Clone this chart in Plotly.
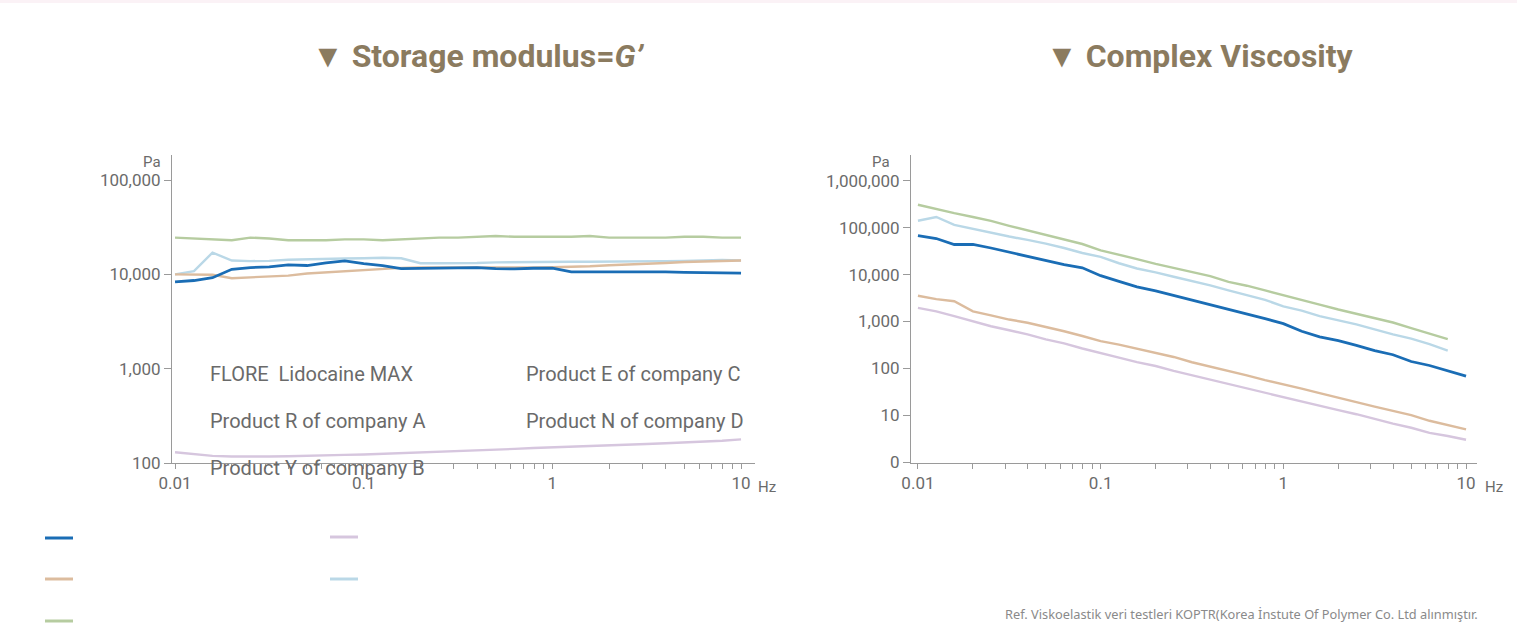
import plotly.graph_objects as go

# ---------------- data ----------------
freq = [0.01, 0.0126, 0.0158, 0.02, 0.0251, 0.0316, 0.0398, 0.0501, 0.0631, 0.0794,
        0.1, 0.126, 0.158, 0.2, 0.251, 0.316, 0.398, 0.501, 0.631, 0.794,
        1, 1.26, 1.58, 2, 2.51, 3.16, 3.98, 5.01, 6.31, 7.94, 10]

series_names = ["FLORE  Lidocaine MAX", "Product R of company A", "Product Y of company B",
                "Product E of company C", "Product N of company D"]
series_colors = ["#1a6db5", "#dcbc9e", "#b6cca0", "#d6c6de", "#bad8e7"]

# Storage modulus G' (Pa)
g_flore = [8300, 8600, 9200, 11300, 11800, 12000, 12600, 12400, 13200, 13900,
           13000, 12400, 11500, 11600, 11600, 11700, 11800, 11500, 11400, 11600,
           11600, 10600, 10600, 10700, 10600, 10700, 10600, 10500, 10400, 10300, 10300]
g_prod_r = [10000, 10000, 9900, 9100, 9300, 9400, 9700, 10200, 10500, 10900,
            11200, 11500, 11700, 11800, 11800, 11700, 11600, 11600, 11700, 11800,
            11900, 12000, 12200, 12500, 12800, 13000, 13200, 13500, 13700, 13800, 14000]
g_prod_y = [24500, 24000, 23500, 23000, 24500, 24000, 23000, 23000, 23000, 23500,
            23500, 23000, 23500, 24000, 24500, 24500, 25000, 25500, 25000, 25000,
            25000, 25000, 25500, 24500, 24500, 24500, 24500, 25000, 25000, 24500, 24500]
g_prod_e = [130, 124, 119, 117, 116, 117, 118, 120, 121, 122,
            123, 125, 126, 128, 130, 133, 135, 138, 141, 144,
            146, 148, 150, 153, 156, 159, 162, 165, 168, 172, 178]
g_prod_n = [10000, 10800, 17000, 14000, 13800, 13900, 14300, 14500, 14500, 14700,
            14800, 15000, 14800, 13100, 13100, 13100, 13200, 13400, 13500, 13500,
            13500, 13600, 13600, 13600, 13700, 13700, 13800, 13900, 14000, 14200, 14000]

# Complex viscosity (Pa·s)
v_flore = [68000, 59000, 44000, 44000, 37000, 30000, 24500, 20000, 16300, 14000,
           9500, 7200, 5500, 4500, 3600, 2900, 2300, 1850, 1450, 1150,
           900, 620, 470, 390, 310, 240, 195, 140, 115, 88, 68]
v_prod_r = [3550, 3000, 2700, 1650, 1350, 1100, 940, 770, 620, 490,
            380, 320, 260, 215, 175, 135, 110, 88, 71, 56,
            46, 37, 29.5, 24, 19, 15.3, 12.3, 10, 7.6, 6.2, 5.0]
v_prod_y = [310000, 250000, 205000, 170000, 140000, 110000, 88000, 70000, 57000, 45000,
            33000, 27000, 21500, 17000, 14000, 11500, 9300, 7000, 5800, 4600,
            3600, 2900, 2300, 1800, 1450, 1200, 950, 720, 560, 420, None]
v_prod_e = [1950, 1650, 1300, 1000, 790, 650, 530, 415, 340, 265,
            215, 170, 136, 112, 88, 71, 56, 46, 37, 30,
            24, 19, 15.8, 12.8, 10.5, 8.2, 6.6, 5.4, 4.2, 3.6, 3.0]
v_prod_n = [141000, 170000, 115000, 94000, 79000, 65000, 55000, 46000, 37000, 29000,
            24000, 17500, 13500, 11200, 9000, 7300, 5900, 4600, 3600, 2900,
            2100, 1700, 1300, 1050, 870, 680, 530, 430, 330, 240, None]

g_series = [g_flore, g_prod_r, g_prod_y, g_prod_e, g_prod_n]
v_series = [v_flore, v_prod_r, v_prod_y, v_prod_e, v_prod_n]
line_widths = [2.8, 2.4, 2.4, 2.4, 2.4]

x_ticks_major = [0.01, 0.1, 1, 10]
x_tick_labels = ["0.01", "0.1", "1", "10"]
g_ticks = [100, 1000, 10000, 100000]
g_tick_labels = ["100", "1,000", "10,000", "100,000"]
v_ticks = [1, 10, 100, 1000, 10000, 100000, 1000000]
v_tick_labels = ["0", "10", "100", "1,000", "10,000", "100,000", "1,000,000"]

# ---------------- figure ----------------
fig = go.Figure()

order = [2, 4, 1, 3, 0]
for i in order:
    fig.add_trace(go.Scatter(x=freq, y=g_series[i], mode="lines", name=series_names[i],
                             line=dict(color=series_colors[i], width=line_widths[i]),
                             xaxis="x", yaxis="y", showlegend=False))
for i in order:
    fig.add_trace(go.Scatter(x=freq, y=v_series[i], mode="lines", name=series_names[i],
                             line=dict(color=series_colors[i], width=line_widths[i]),
                             xaxis="x2", yaxis="y2", showlegend=False))

xt_vals, xt_text = [], []
for d in [0.01, 0.1, 1]:
    for m in range(1, 10):
        xt_vals.append(round(d * m, 4))
        xt_text.append(x_tick_labels[x_ticks_major.index(d)] if m == 1 else "")
xt_vals.append(10)
xt_text.append("10")

FONT = "Liberation Sans Narrow, Roboto, Arial Narrow, sans-serif"
AX = "#9a9a9a"
TXT = "#6b6b6b"

common_x = dict(type="log", showgrid=False, zeroline=False, showline=True, linecolor=AX,
                linewidth=1, ticks="outside", ticklen=5, tickcolor=AX, tickwidth=1,
                tickvals=xt_vals, ticktext=xt_text, automargin=False,
                tickfont=dict(family=FONT, size=17, color=TXT))
common_y = dict(type="log", showgrid=False, zeroline=False, showline=True, linecolor=AX,
                linewidth=1, ticks="outside", ticklen=7, tickcolor=AX, tickwidth=1,
                automargin=False,
                tickfont=dict(family=FONT, size=17, color=TXT))

H = 624
W = 1517
dom_y = [(H - 463) / H, (H - 155) / H]

fig.update_layout(
    width=W, height=H, margin=dict(l=0, r=0, t=0, b=0, pad=0, autoexpand=False),
    paper_bgcolor="white", plot_bgcolor="white",
    xaxis=dict(**common_x, domain=[172 / W, 755 / W], range=[-2.016, 1.074], anchor="y"),
    yaxis=dict(**common_y, domain=dom_y, range=[2.0, 5.265], anchor="x",
               tickvals=g_ticks, ticktext=g_tick_labels),
    xaxis2=dict(**common_x, domain=[911 / W, 1477 / W], range=[-2.038, 1.06], anchor="y2"),
    yaxis2=dict(**common_y, domain=dom_y, range=[-0.02, 6.553], anchor="x2",
                tickvals=v_ticks, ticktext=v_tick_labels),
)


def ann(px, py, text, font, xanchor="center"):
    fig.add_annotation(x=px / W, y=1 - py / H, xref="paper", yref="paper", showarrow=False,
                       xanchor=xanchor, yanchor="middle", text=text, font=font)


TITLE_FONT = dict(family="Liberation Sans Narrow, Roboto, sans-serif", size=32, color="#8b7b5f")
ann(478, 56, "<b>▼ Storage modulus=<i>G’</i></b>", TITLE_FONT)
ann(1200, 56, "<b>▼ Complex Viscosity</b>", TITLE_FONT)

unit_font = dict(family=FONT, size=15, color=TXT)
ann(163, 162, "Pa", unit_font, "right")
ann(892, 162, "Pa", unit_font, "right")
ann(756, 487, "Hz", unit_font, "left")
ann(1483, 487, "Hz", unit_font, "left")

label_pos = [(208, 374), (208, 421), (208, 468), (524, 374), (524, 421)]
for name, (px, py) in zip(series_names, label_pos):
    ann(px, py, name, dict(family=FONT, size=20, color="#6a6a6a"), "left")

swatch_pos = [(45, 538), (45, 579), (45, 621), (330, 537), (330, 579)]
for col, (px, py) in zip(series_colors, swatch_pos):
    fig.add_shape(type="line", xref="paper", yref="paper",
                  x0=px / W, x1=(px + 28) / W, y0=1 - py / H, y1=1 - py / H,
                  line=dict(color=col, width=3))

fig.add_shape(type="rect", xref="paper", yref="paper", x0=0, x1=1, y0=1 - 3 / H, y1=1,
              line=dict(width=0), fillcolor="#fbf2f6", layer="below")

ann(1480, 614, "Ref. Viskoelastik veri testleri KOPTR(Korea İnstute Of Polymer Co. Ltd alınmıştır.",
    dict(family="Noto Sans, sans-serif", size=12.8, color="#8a8a8a"), "right")

fig.write_html("out.html", config={"displayModeBar": False},
               post_script="document.body.style.margin='0px';document.body.style.overflow='hidden';")
